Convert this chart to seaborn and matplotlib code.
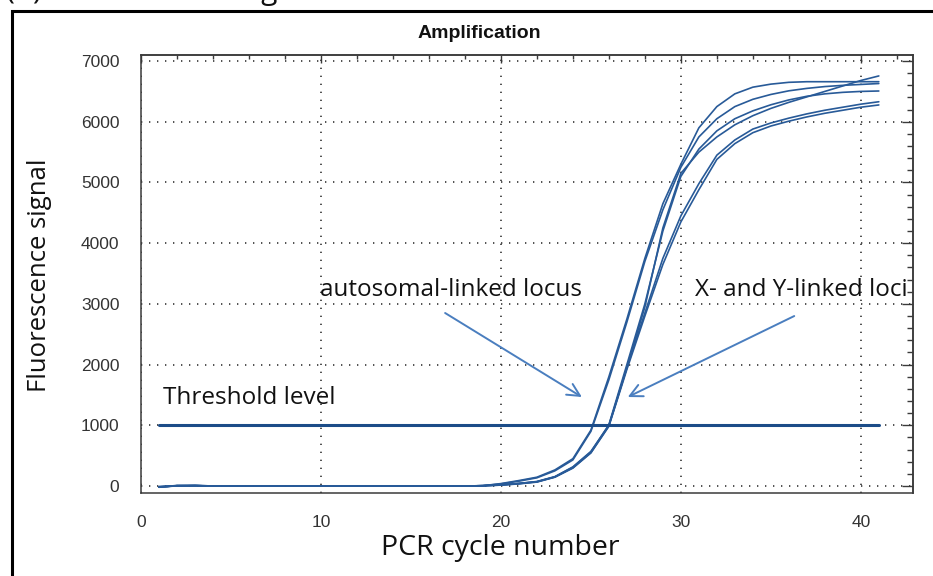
import numpy as np
import pandas as pd
import matplotlib
matplotlib.use("Agg")
import matplotlib.pyplot as plt
import seaborn as sns
from matplotlib.ticker import MultipleLocator, NullFormatter
from matplotlib.patches import Rectangle

# ---------------- data ----------------
cycles = list(range(1, 42))

curve_names = ["auto_a", "auto_b", "sex_a", "sex_b", "sex_c", "sex_d"]

auto_a = [-20, 10, 10, 0, 0, 0, 0, 0, 0, 0, 0, 0, 0, 0, 0, 0, 0, 0, 5,
          40, 90, 145, 265, 450, 920, 1800, 2750, 3750, 4650, 5300, 5900,
          6250, 6460, 6570, 6620, 6650, 6660, 6660, 6660, 6660, 6660]
auto_b = [-20, 5, 10, 0, 0, 0, 0, 0, 0, 0, 0, 0, 0, 0, 0, 0, 0, 0, 5,
          35, 80, 135, 250, 430, 900, 1750, 2700, 3700, 4550, 5250, 5750,
          6050, 6250, 6370, 6450, 6510, 6550, 6580, 6600, 6615, 6630]
sex_a = [-15, 5, 5, 0, 0, 0, 0, 0, 0, 0, 0, 0, 0, 0, 0, 0, 0, 0, 5,
         20, 40, 75, 155, 315, 570, 1000, 1950, 2950, 4250, 5150, 5500,
         5750, 5950, 6100, 6220, 6320, 6410, 6500, 6590, 6680, 6755]
sex_b = [-15, 5, 5, 0, 0, 0, 0, 0, 0, 0, 0, 0, 0, 0, 0, 0, 0, 0, 5,
         20, 45, 70, 150, 310, 560, 1010, 2000, 3000, 4200, 5100, 5550,
         5850, 6050, 6180, 6280, 6360, 6420, 6460, 6485, 6500, 6507]
sex_c = [-10, 0, 5, 0, 0, 0, 0, 0, 0, 0, 0, 0, 0, 0, 0, 0, 0, 0, 5,
         15, 40, 70, 150, 300, 550, 990, 1950, 2850, 3750, 4450, 4980,
         5450, 5700, 5880, 5980, 6060, 6130, 6190, 6240, 6290, 6330]
sex_d = [-10, 0, 5, 0, 0, 0, 0, 0, 0, 0, 0, 0, 0, 0, 0, 0, 0, 0, 5,
         15, 35, 65, 145, 295, 545, 985, 1920, 2800, 3650, 4350, 4880,
         5380, 5640, 5820, 5930, 6010, 6080, 6140, 6190, 6240, 6277]

threshold_x = [1, 41]
threshold_y = [1000, 1000]

x_ticks = [0, 10, 20, 30, 40]
y_ticks = [0, 1000, 2000, 3000, 4000, 5000, 6000, 7000]

title_text = "Amplification"
x_label = "PCR cycle number"
y_label = "Fluorescence signal"
label_auto = "autosomal-linked locus"
label_sex = "X- and Y-linked loci"
label_thr = "Threshold level"
panel_text = "(b) Real-time sexing"

# ---------------- build long-form table ----------------
series = [auto_a, auto_b, sex_a, sex_b, sex_c, sex_d]
df = pd.concat(
    [pd.DataFrame({"cycle": cycles, "signal": s, "curve": n})
     for n, s in zip(curve_names, series)],
    ignore_index=True)

# ---------------- style ----------------
sns.set_style("white")
plt.rcParams["font.family"] = ["Liberation Sans", "DejaVu Sans"]

W, H = 933, 576
fig = plt.figure(figsize=(W / 100, H / 100), dpi=100)
ax = fig.add_axes([141 / W, 1 - 493 / H, 772 / W, 438 / H])

curve_color = "#285a98"
sns.lineplot(data=df, x="cycle", y="signal", hue="curve",
             palette=[curve_color] * len(curve_names), legend=False,
             estimator=None, errorbar=None, linewidth=1.2, ax=ax, zorder=3)
sns.lineplot(x=threshold_x, y=threshold_y, color="#1c4c88", linewidth=2.2,
             ax=ax, zorder=4)

ax.set_xlim(0, 42.9)
ax.set_ylim(-115, 7100)

ax.set_xticks(x_ticks)
ax.set_yticks(y_ticks)
ax.xaxis.set_minor_locator(MultipleLocator(2))
ax.yaxis.set_minor_locator(MultipleLocator(200))

spine_color = "#3a3a3a"
for sp in ax.spines.values():
    sp.set_color(spine_color)
    sp.set_linewidth(1.1)

ax.grid(True, which="major", color="#333333", linestyle=(0, (0.8, 4.0)),
        linewidth=1.2)
ax.set_axisbelow(True)

ax.tick_params(axis="y", which="major", direction="inout", length=13,
               width=1.1, color=spine_color, pad=9, labelsize=12.5,
               labelcolor="#333333")
ax.tick_params(axis="y", which="minor", direction="inout", length=6,
               width=1.0, color=spine_color)
ax.tick_params(axis="x", which="major", direction="inout", length=11,
               width=1.1, color=spine_color, pad=10, labelsize=12.5,
               labelcolor="#333333")
ax.tick_params(axis="x", which="minor", direction="inout", length=6,
               width=1.0, color=spine_color)

# inward ticks on top and right
secx = ax.secondary_xaxis("top")
secx.set_xticks(x_ticks)
secx.xaxis.set_minor_locator(MultipleLocator(2))
secx.xaxis.set_major_formatter(NullFormatter())
secx.tick_params(which="major", direction="in", length=6, width=1.0,
                 color=spine_color)
secx.tick_params(which="minor", direction="in", length=3, width=1.0,
                 color=spine_color)
secy = ax.secondary_yaxis("right")
secy.set_yticks(y_ticks)
secy.yaxis.set_minor_locator(MultipleLocator(200))
secy.yaxis.set_major_formatter(NullFormatter())
secy.tick_params(which="major", direction="in", length=8, width=1.0,
                 color=spine_color)
secy.tick_params(which="minor", direction="in", length=4, width=1.0,
                 color=spine_color)
for s in (secx, secy):
    for sp in s.spines.values():
        sp.set_color(spine_color)
        sp.set_linewidth(1.1)

label_font = ["Open Sans", "DejaVu Sans"]
ax.set_xlabel(x_label, family=label_font, fontsize=20.5, color="#111111")
ax.set_ylabel(y_label, family=label_font, fontsize=18.5, color="#111111")
ax.xaxis.set_label_coords((500 - 141) / 772, (493 - 548) / 438)
ax.xaxis.label.set_va("center")
ax.yaxis.set_label_coords((40 - 141) / 772, (493 - 275) / 438)
ax.yaxis.label.set_va("center")

fig.text(479 / W, 1 - 33 / H, title_text, ha="center", va="center",
         fontweight="bold", fontsize=14, color="#111111")

# annotations
arrow_color = "#4a7ebf"
ax.annotate("", xy=(24.5, 1466), xytext=(16.9, 2850),
            arrowprops=dict(arrowstyle="->,head_length=0.9,head_width=0.45",
                            color=arrow_color, lw=1.4, shrinkA=0, shrinkB=0))
ax.annotate("", xy=(27.05, 1466), xytext=(36.3, 2800),
            arrowprops=dict(arrowstyle="->,head_length=0.9,head_width=0.45",
                            color=arrow_color, lw=1.4, shrinkA=0, shrinkB=0))
ax.text(9.94, 3230, label_auto, family=label_font, fontsize=17.5,
        ha="left", va="center", color="#111111")
ax.text(30.8, 3230, label_sex, family=label_font, fontsize=17.5,
        ha="left", va="center", color="#111111")
ax.text(1.2, 1450, label_thr, family=label_font, fontsize=17.5,
        ha="left", va="center", color="#111111")

# outer frame and clipped panel heading
fig.patches.append(Rectangle((11.5 / W, -0.1), 1.2, 0.1 + 1 - 10.7 / H,
                             transform=fig.transFigure, fill=False,
                             edgecolor="black", linewidth=2.2))
fig.text(6 / W, 1.0 + 1 / H, panel_text, family=label_font, fontsize=21.5,
         ha="left", va="baseline", color="#111111")

fig.savefig("out.png", dpi=100)
